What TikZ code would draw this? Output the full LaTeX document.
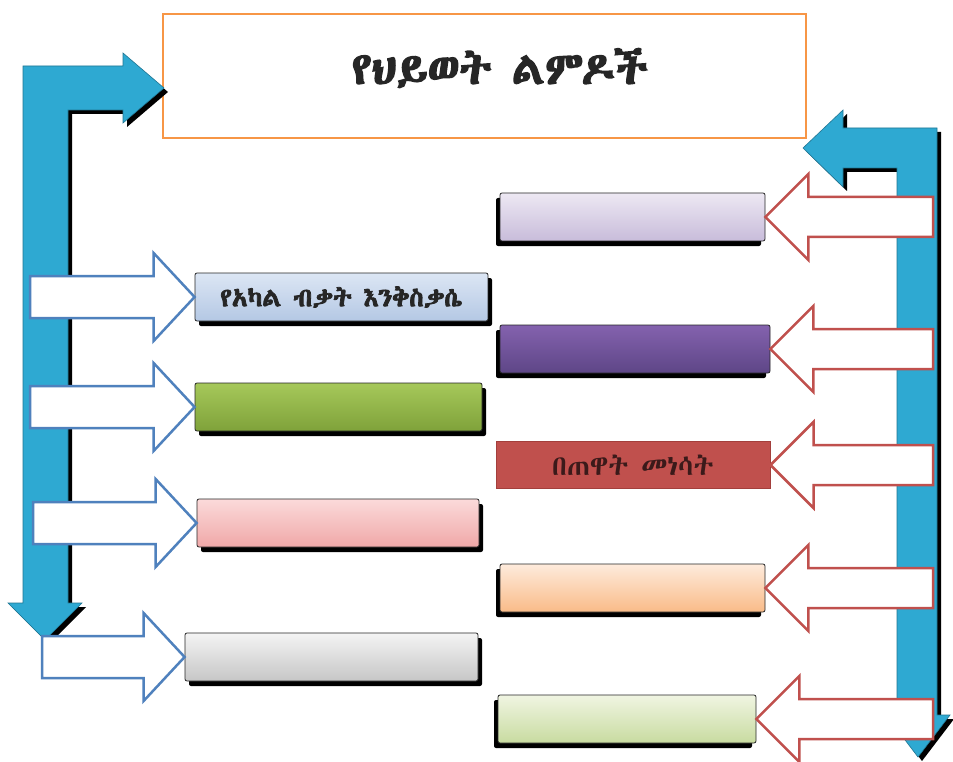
\documentclass[tikz,border=0pt]{standalone}
\usepackage{fontspec}
\IfFontExistsTF{Abyssinica SIL}{\newfontfamily\eth[BoldFont={Abyssinica SIL},BoldFeatures={FakeBold=3}]{Abyssinica SIL}}{%
 \IfFontExistsTF{FreeSerif}{\newfontfamily\eth[BoldFont={FreeSerif},BoldFeatures={FakeBold=3}]{FreeSerif}}{%
  \IfFontExistsTF{FreeSans}{\newfontfamily\eth[BoldFont={FreeSans},BoldFeatures={FakeBold=3}]{FreeSans}}{%
   \newfontfamily\eth[BoldFont={Noto Sans Ethiopic},BoldFeatures={FakeBold=3}]{Noto Sans Ethiopic}}}}
\usetikzlibrary{calc,shadows}
\definecolor{titleorange}{HTML}{F79646}
\definecolor{shaftblue}{HTML}{2EA9D2}
\definecolor{outblue}{HTML}{4F81BD}
\definecolor{outred}{HTML}{C0504D}
\definecolor{ltblueT}{HTML}{DCE6F4}\definecolor{ltblueB}{HTML}{B4C8E4}
\definecolor{greenT}{HTML}{A6C85A}\definecolor{greenB}{HTML}{7FA23A}
\definecolor{pinkT}{HTML}{FBDADA}\definecolor{pinkB}{HTML}{F0A8A8}
\definecolor{grayT}{HTML}{F4F4F4}\definecolor{grayB}{HTML}{C6C6C6}
\definecolor{lavT}{HTML}{EDE8F3}\definecolor{lavB}{HTML}{C8BCDA}
\definecolor{purT}{HTML}{8462AE}\definecolor{purB}{HTML}{5E4687}
\definecolor{redbox}{HTML}{C0504D}\definecolor{redborder}{HTML}{A33F3C}
\definecolor{peachT}{HTML}{FEEBDC}\definecolor{peachB}{HTML}{F9BB88}
\definecolor{lgreenT}{HTML}{F0F5E2}\definecolor{lgreenB}{HTML}{C8DBA0}
\definecolor{textdark}{HTML}{262626}
\definecolor{redtext}{HTML}{3B1A1A}
% block arrow pointing right: #1 start coordinate, #2 target anchor
\newcommand\rightblock[2]{%
 \draw[blueout] let \p1=(#1), \p2=(#2) in
  (\x1,\y2+21pt) -- (\x2-41pt,\y2+21pt) -- (\x2-41pt,\y2+44pt) -- (\x2,\y2)
  -- (\x2-41pt,\y2-44pt) -- (\x2-41pt,\y2-21pt) -- (\x1,\y2-21pt) -- cycle;}
% block arrow pointing left
\newcommand\leftblock[2]{%
 \draw[redout] let \p1=(#1), \p2=(#2) in
  (\x1,\y2+20pt) -- (\x2+43pt,\y2+20pt) -- (\x2+43pt,\y2+43pt) -- (\x2,\y2)
  -- (\x2+43pt,\y2-43pt) -- (\x2+43pt,\y2-20pt) -- (\x1,\y2-20pt) -- cycle;}
\begin{document}
\begin{tikzpicture}[x=1pt,y=-1pt,
  shaft/.style={fill=shaftblue, draw=shaftblue!70!black, line width=0.6pt,
    drop shadow={shadow xshift=4pt, shadow yshift=-4pt, opacity=1, fill=black}},
  blueout/.style={draw=outblue, fill=white, line width=2.5pt, line join=miter},
  redout/.style={draw=outred, fill=white, line width=2.5pt, line join=miter},
  lbox/.style={rounded corners=2pt, draw=black!85, line width=0.8pt, inner sep=0pt,
    minimum height=48pt,
    drop shadow={shadow xshift=4pt, shadow yshift=-5pt, opacity=1, fill=black}},
  rbox/.style={rounded corners=2pt, draw=black!85, line width=0.8pt, inner sep=0pt,
    minimum height=48pt,
    drop shadow={shadow xshift=-4pt, shadow yshift=-5pt, opacity=1, fill=black}},
  boxtext/.style={font=\eth\fontsize{28}{31}\selectfont}
]
\useasboundingbox (0,0) rectangle (953,762);
\fill[white] (0,0) rectangle (953,762);

% title
\node[draw=titleorange, line width=2.5pt, minimum width=643pt, minimum height=124pt,
  inner sep=0pt] (title) at (484.5,76) {};
\node[font=\eth\bfseries\fontsize{45}{50}\selectfont, text=textdark] (titletext) at (500,68) {የህይወት ልምዶች};

% bent blue arrows
\path[shaft] (23,66) -- (123,66) -- (123,53) -- (164,88) -- (123,123) -- (123,110)
  -- (68,110) -- (68,603) -- (82,603) -- (45,640) -- (8,603) -- (23,603) -- cycle;
\path[shaft] (937,128) -- (937,715) -- (950,715) -- (918,757) -- (886,715) -- (897,715)
  -- (897,168) -- (843,168) -- (843,187) -- (803,148) -- (843,110) -- (843,128) -- cycle;

% left boxes
\node[lbox, minimum width=293pt, top color=ltblueT, bottom color=ltblueB] (bA) at (341.5,297)
  {\textcolor{textdark}{\eth\bfseries\fontsize{26}{30}\selectfont የአካል ብቃት እንቅስቃሴ}};
\node[lbox, minimum width=287pt, top color=greenT, bottom color=greenB] (bB) at (338.5,407) {};
\node[lbox, minimum width=282pt, top color=pinkT, bottom color=pinkB] (bC) at (338,523) {};
\node[lbox, minimum width=293pt, top color=grayT, bottom color=grayB] (bD) at (331.5,657) {};

% right boxes
\node[rbox, minimum width=265pt, top color=lavT, bottom color=lavB] (r1) at (632.5,217) {};
\node[rbox, minimum width=270pt, top color=purT, bottom color=purB] (r2) at (635,349) {};
\node[draw=redborder, fill=redbox, line width=1pt, inner sep=0pt, minimum width=274pt,
  minimum height=47pt, boxtext, text=redtext] (r3) at (633,465) {በጠዋት መነሳት};
\node[rbox, minimum width=265pt, top color=peachT, bottom color=peachB] (r4) at (632.5,588) {};
\node[rbox, minimum width=258pt, top color=lgreenT, bottom color=lgreenB] (r5) at (627,719) {};

% start points of block arrows
\coordinate (sA) at (30,297);
\coordinate (sB) at (30,407);
\coordinate (sC) at (33,523);
\coordinate (sD) at (42,657);
\coordinate (e1) at (933,217);
\coordinate (e2) at (933,349);
\coordinate (e3) at (933,465);
\coordinate (e4) at (933,588);
\coordinate (e5) at (933,719);

\rightblock{sA}{bA.west}
\rightblock{sB}{bB.west}
\rightblock{sC}{bC.west}
\rightblock{sD}{bD.west}
\leftblock{e1}{r1.east}
\leftblock{e2}{r2.east}
\leftblock{e3}{r3.east}
\leftblock{e4}{r4.east}
\leftblock{e5}{r5.east}
\end{tikzpicture}
\end{document}
